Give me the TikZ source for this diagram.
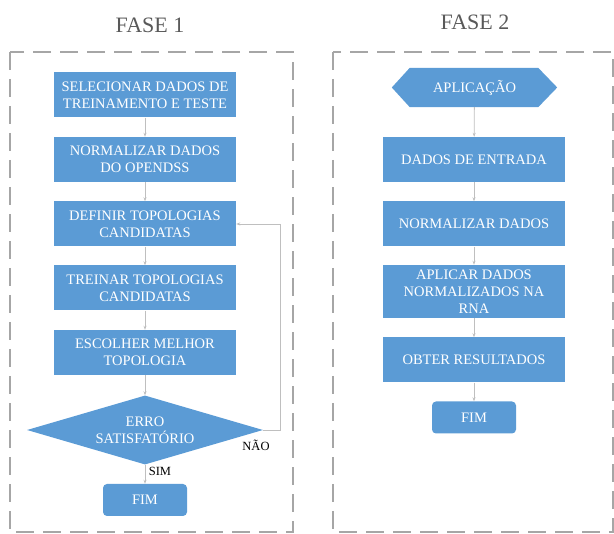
\documentclass[tikz,border=0pt]{standalone}
\usepackage{fontspec}
\setmainfont{Liberation Serif}
\usetikzlibrary{shapes.geometric,arrows.meta}
\definecolor{boxblue}{HTML}{5B9BD5}
\definecolor{framegray}{HTML}{A6A6A6}
\definecolor{arrowgray}{HTML}{BFBFBF}
\definecolor{titlegray}{HTML}{595959}
\begin{document}
\begin{tikzpicture}[x=1pt,y=-1pt,
  boxfont/.style={font=\rmfamily\fontsize{14.5}{17}\selectfont},
  stepbox/.style={rectangle,fill=boxblue,text=white,minimum width=182pt,minimum height=45pt,inner sep=0pt,align=center,boxfont},
  endbox/.style={rectangle,rounded corners=4pt,fill=boxblue,text=white,minimum width=84pt,minimum height=32pt,inner sep=0pt,boxfont},
  decision/.style={diamond,fill=boxblue,text=white,minimum width=236pt,minimum height=69pt,inner sep=0pt,aspect=3.4,align=center,boxfont},
  frame/.style={draw=framegray,line width=2.2pt,dash pattern=on 18pt off 9pt},
  conn/.style={draw=arrowgray,line width=0.8pt,-{Stealth[length=4pt,width=3pt]}},
  title/.style={text=titlegray,font=\rmfamily\fontsize{22}{24}\selectfont},
  lbl/.style={text=black,font=\rmfamily\fontsize{12.5}{14}\selectfont}]
\useasboundingbox (0,0) rectangle (614,534);
% frames
\draw[frame] (10,52) rectangle (293,532);
\draw[frame] (333,52) rectangle (613,532);
\node[title] (t1) at (150,25) {FASE 1};
\node[title] (t2) at (475,22) {FASE 2};
% phase 1
\node[stepbox] (a1) at (145,95) {SELECIONAR DADOS DE\\TREINAMENTO E TESTE};
\node[stepbox] (a2) at (145,159.5) {NORMALIZAR DADOS\\DO OPENDSS};
\node[stepbox] (a3) at (145,224) {DEFINIR TOPOLOGIAS\\CANDIDATAS};
\node[stepbox] (a4) at (145,288) {TREINAR TOPOLOGIAS\\CANDIDATAS};
\node[stepbox] (a5) at (145,352.5) {ESCOLHER MELHOR\\TOPOLOGIA};
\node[decision] (d) at (145,430) {ERRO\\SATISFATÓRIO};
\node[endbox] (f1) at (145,500) {FIM};
\coordinate (lp1) at (280,430);
\coordinate (lp2) at (280,224);
\draw[conn] (a1) -- (a2);
\draw[conn] (a2) -- (a3);
\draw[conn] (a3) -- (a4);
\draw[conn] (a4) -- (a5);
\draw[conn] (a5) -- (d);
\draw[conn] (d) -- (f1);
\draw[conn] (d.east) -- (lp1) -- (lp2) -- (a3.east);
\node[lbl] (sim) at (160,471) {SIM};
\node[lbl] (nao) at (256,445) {NÃO};
% phase 2
\node[minimum width=165pt,minimum height=39pt,inner sep=0pt] (h) at (474.5,87.5) {};
\fill[boxblue] (h.west) -- ([xshift=18pt]h.north west) -- ([xshift=-19pt]h.north east) -- (h.east) -- ([xshift=-19pt]h.south east) -- ([xshift=18pt]h.south west) -- cycle;
\node[text=white,boxfont] (ht) at (h) {APLICAÇÃO};
\node[stepbox] (b1) at (474,159.5) {DADOS DE ENTRADA};
\node[stepbox] (b2) at (474,224) {NORMALIZAR DADOS};
\node[stepbox,minimum height=53pt] (b3) at (474,291.5) {APLICAR DADOS\\NORMALIZADOS NA\\RNA};
\node[stepbox] (b4) at (474,360) {OBTER RESULTADOS};
\node[endbox] (f2) at (474,417.5) {FIM};
\draw[conn] (h) -- (b1);
\draw[conn] (b1) -- (b2);
\draw[conn] (b2) -- (b3);
\draw[conn] (b3) -- (b4);
\draw[conn] (b4) -- (f2);
\end{tikzpicture}
\end{document}
